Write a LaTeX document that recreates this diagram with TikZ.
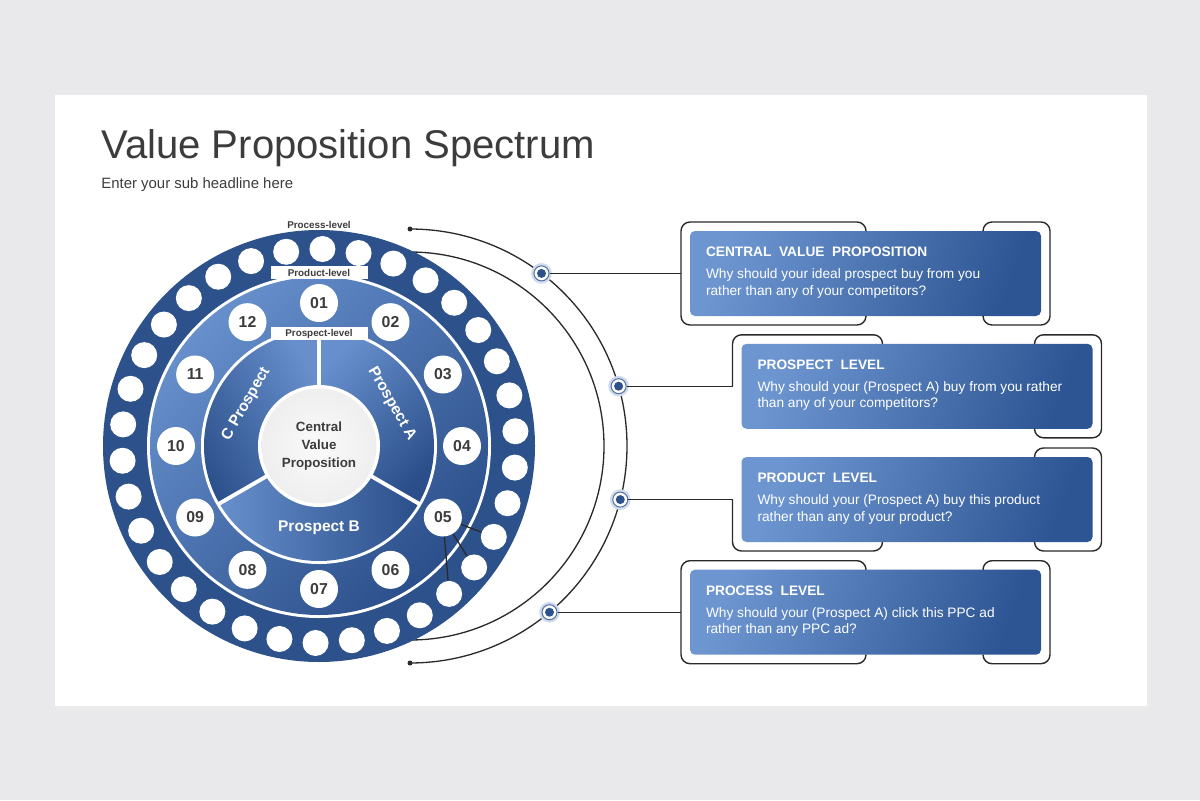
\documentclass[tikz,border=0pt]{standalone}
\usepackage{fontspec}
\setmainfont{Liberation Sans}
\usetikzlibrary{calc,positioning}

\definecolor{pageGrey}{HTML}{E9E8EA}
\definecolor{ringDark}{HTML}{2D518A}
\definecolor{ringLight}{HTML}{668FCB}
\definecolor{ringDeep}{HTML}{2B4F8B}
\definecolor{boxLight}{HTML}{6D96D1}
\definecolor{boxDark}{HTML}{2D5593}
\definecolor{textGrey}{HTML}{3C3C3C}
\definecolor{lineGrey}{HTML}{2A2A2A}
\definecolor{haloBlue}{HTML}{D0DCEE}

% open frame round a text box: #1 frame node, #2 where the top/bottom line stops
\newcommand{\leftBracket}[2]{
  \draw[framesty] ($(#1.north west)+(#2,-9)$) -- ($(#1.north west)+(#2,0)$) -- (#1.north west)
    -- (#1.south west) -- ($(#1.south west)+(#2,0)$) -- ($(#1.south west)+(#2,9)$);
}
\newcommand{\rightBracket}[1]{
  \draw[framesty] ($(#1.north east)+(-67,-9)$) -- ($(#1.north east)+(-67,0)$) -- (#1.north east)
    -- (#1.south east) -- ($(#1.south east)+(-67,0)$) -- ($(#1.south east)+(-67,9)$);
}

\begin{document}
\begin{tikzpicture}[x=0.2mm, y=0.2mm,
  ringsty/.style={circle, fill=white, minimum size=5.2mm, inner sep=0pt},
  numsty/.style={circle, fill=white, minimum size=7.6mm, inner sep=0pt, text=textGrey, font=\bfseries\fontsize{9}{9}\selectfont},
  levelsty/.style={fill=white, minimum width=19.4mm, minimum height=2.6mm, inner sep=0pt, text=textGrey, font=\bfseries\fontsize{5.6}{6}\selectfont},
  sectortext/.style={text=white, font=\bfseries\fontsize{8.8}{9}\selectfont},
  sectorsty/.style={top color=ringLight, bottom color=ringDeep, shading angle=#1},
  boxsty/.style={rounded corners=1mm, minimum width=70.2mm, minimum height=17mm, top color=boxLight, bottom color=boxDark, shading angle=70},
  framenode/.style={minimum width=73.8mm, minimum height=20.6mm, inner sep=0pt, outer sep=0pt},
  framesty/.style={draw=lineGrey, line width=0.8pt, rounded corners=1.8mm},
  boxtext/.style={anchor=west, align=left, text=white, inner sep=0pt, font=\fontsize{7.8}{9.6}\selectfont},
  linesty/.style={draw=lineGrey, line width=0.75pt},
  markersty/.style={circle, fill=white, draw=ringDark!80, line width=0.6pt, minimum size=3mm, inner sep=0pt,
    preaction={draw=haloBlue, line width=3.2pt},
    path picture={\fill[ringDark] (path picture bounding box.center) circle[radius=0.9mm];}},
  endsty/.style={circle, fill=lineGrey, minimum size=1mm, inner sep=0pt}]

\useasboundingbox (0,0) rectangle (1200,800);
\fill[pageGrey] (0,0) rectangle (1200,800);
\fill[black!8] (56,90) rectangle (1149,704);
\fill[white] (55,94) rectangle (1147,705);

\node[anchor=base west, inner sep=0pt, text=textGrey, font=\fontsize{22.8}{27}\selectfont] (title) at (101,642) {Value Proposition Spectrum};
\node[anchor=base west, inner sep=0pt, text=textGrey, font=\fontsize{8.5}{10}\selectfont] (subtitle) at (101,611) {Enter your sub headline here};

\coordinate (C) at (319,354);
\coordinate (A) at (410,354);

% inner arc, behind the ring
\draw[linesty] ($(A)+(0,194)$) arc[start angle=90, end angle=-90, radius=194];

% rings
\fill[ringDark] (C) circle[radius=216];
\fill[white] (C) circle[radius=172];
\shade[top color=ringLight, bottom color=ringDeep, shading angle=45] (C) circle[radius=169];
\fill[white] (C) circle[radius=118];
\shade[sectorsty=45] (C) -- ($(C)+(90:115)$) arc[start angle=90, end angle=-30, radius=115] -- cycle;
\shade[sectorsty=90] (C) -- ($(C)+(-30:115)$) arc[start angle=-30, end angle=-150, radius=115] -- cycle;
\shade[sectorsty=-60] (C) -- ($(C)+(210:115)$) arc[start angle=210, end angle=90, radius=115] -- cycle;
\foreach \a in {90,210,330}
  \draw[white, line width=2.2pt] (C) -- ($(C)+(\a:116)$);
\fill[white] (C) circle[radius=61];
\shade[inner color=gray!4, outer color=gray!13] (C) circle[radius=57.5];

\foreach \k in {0,...,33}
  \node[ringsty] (s\k) at ($(C)+({89-\k*360/34}:197)$) {};
\foreach \i/\lab in {1/01,2/02,3/03,4/04,5/05,6/06,7/07,8/08,9/09,10/10,11/11,12/12}
  \node[numsty] (n\i) at ($(C)+({120-30*\i}:143)$) {\lab};

\draw[linesty] (n5) -- (s11);
\draw[linesty] (n5) -- (s12);
\draw[linesty] (n5) -- (s13);

\node[text=textGrey, inner sep=0pt, font=\bfseries\fontsize{5.6}{6}\selectfont] (process) at ($(C)+(0,221)$) {Process-level};
\node[levelsty] (product) at ($(C)+(0,173.5)$) {Product-level};
\node[levelsty] (prospect) at ($(C)+(0,112.5)$) {Prospect-level};

\node[align=center, text=textGrey, font=\bfseries\fontsize{7.6}{10.2}\selectfont] (cvp) at (C) {Central\\Value\\Proposition};
\node[sectortext, rotate=-60] (pA) at ($(C)+(30:84)$) {Prospect A};
\node[sectortext, rotate=60] (pC) at ($(C)+(150:84)$) {C Prospect};
\node[sectortext] (pB) at ($(C)+(270:82)$) {Prospect B};

% outer arc with the four markers
\node[endsty] (e1) at ($(A)+(0,217)$) {};
\node[endsty] (e2) at ($(A)+(0,-217)$) {};
\draw[linesty] (e1.center) arc[start angle=90, end angle=-90, radius=217];
\node[markersty] (m1) at ($(A)+(52.7:217)$) {};
\node[markersty] (m2) at ($(A)+(16:217)$) {};
\node[markersty] (m3) at ($(A)+(-14.3:217)$) {};
\node[markersty] (m4) at ($(A)+(-50:217)$) {};

% text boxes
\node[boxsty] (b1) at (865.5,526.5) {};
\node[boxsty] (b2) at (917,413.7) {};
\node[boxsty] (b3) at (917,300.5) {};
\node[boxsty] (b4) at (865.5,187.8) {};
\foreach \b in {1,...,4}
  \node[framenode] (f\b) at (b\b) {};

\leftBracket{f1}{185}
\rightBracket{f1}
\draw[framesty] ($(f2.north west)+(150,-9)$) -- ($(f2.north west)+(150,0)$) -- (f2.north west) -- (f2.west);
\rightBracket{f2}
\draw[framesty] (f3.west) -- (f3.south west) -- ($(f3.south west)+(150,0)$) -- ($(f3.south west)+(150,9)$);
\rightBracket{f3}
\leftBracket{f4}{185}
\rightBracket{f4}

\draw[linesty] (m1) -- (m1 -| f1.west);
\draw[linesty] (m2) -- (m2 -| f2.west);
\draw[linesty] (m3) -- (m3 -| f3.west);
\draw[linesty] (m4) -- (m4 -| f4.west);

\node[boxtext] (t1) at ($(b1.west)+(16,1)$) {\textbf{CENTRAL\ \ VALUE\ \ PROPOSITION}\\[2.8pt]Why should your ideal prospect buy from you\\rather than any of your competitors?};
\node[boxtext] (t2) at ($(b2.west)+(16,1)$) {\textbf{PROSPECT\ \ LEVEL}\\[2.8pt]Why should your (Prospect A) buy from you rather\\than any of your competitors?};
\node[boxtext] (t3) at ($(b3.west)+(16,1)$) {\textbf{PRODUCT\ \ LEVEL}\\[2.8pt]Why should your (Prospect A) buy this product\\rather than any of your product?};
\node[boxtext] (t4) at ($(b4.west)+(16,1)$) {\textbf{PROCESS\ \ LEVEL}\\[2.8pt]Why should your (Prospect A) click this PPC ad\\rather than any PPC ad?};

\end{tikzpicture}
\end{document}
